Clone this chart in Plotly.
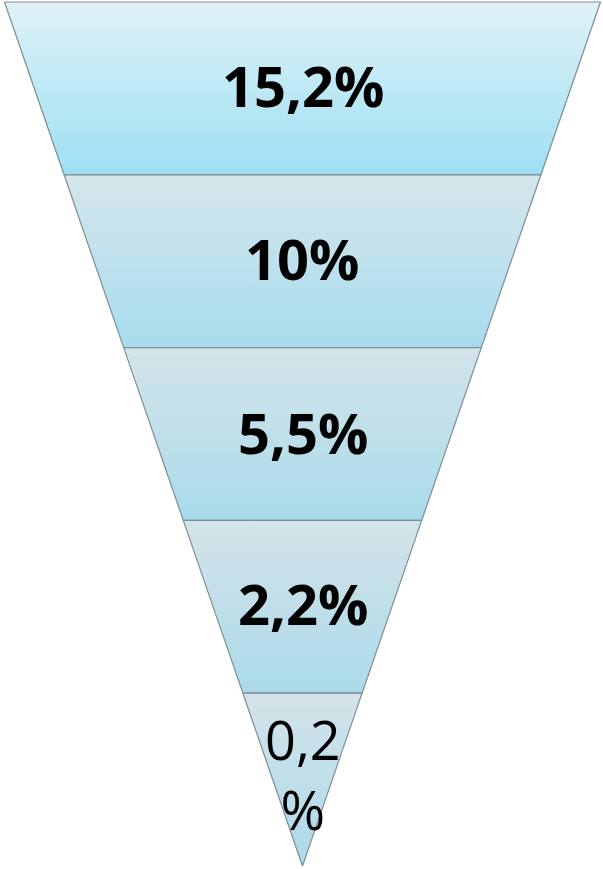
import plotly.graph_objects as go

# ---- data ----
stages = ["Stage 1", "Stage 2", "Stage 3", "Stage 4", "Stage 5"]
values = [15.2, 10, 5.5, 2.2, 0.2]
labels = ["15,2%", "10%", "5,5%", "2,2%", "0,2<br>%"]
label_bold = [True, True, True, True, False]
top_colors = ["#e0f1f7", "#d6e6ec", "#d4e4ea", "#d4e3e9", "#d4e3e9"]
bottom_colors = ["#9de0f3", "#a6dcee", "#a9dbeb", "#abdaea", "#abdaea"]

# ---- geometry (pixel-like axis units) ----
W, H = 603, 869
cx = 302.5
top_y = 2.0
apex_y = 866.0
half_top = 298.0
n = len(values)
band_h = (apex_y - top_y) / n


def half_width(y):
    return half_top * (apex_y - y) / (apex_y - top_y)


fig = go.Figure()
for i in range(n):
    y0 = top_y + i * band_h
    y1 = top_y + (i + 1) * band_h
    w0, w1 = half_width(y0), half_width(y1)
    xs = [cx - w0, cx + w0, cx + w1, cx - w1, cx - w0]
    ys = [y0, y0, y1, y1, y0]
    fig.add_trace(go.Scatter(
        x=xs, y=ys, mode="lines", fill="toself",
        line=dict(color="#7d8e95", width=1.2),
        fillgradient=dict(type="vertical",
                          colorscale=[[0, top_colors[i]], [1, bottom_colors[i]]],
                          start=y0, stop=y1),
        hoverinfo="skip", showlegend=False, name=stages[i],
    ))

label_y = [85, 258, 432, 603, 774]
for i in range(n):
    bold = label_bold[i]
    fig.add_annotation(
        x=cx, y=label_y[i], text=labels[i], showarrow=False,
        font=dict(family="Open Sans", size=56 if bold else 54,
                  color="#000000", weight="bold" if bold else "normal"),
        xanchor="center", yanchor="middle",
    )

fig.update_layout(
    width=W, height=H,
    margin=dict(l=0, r=0, t=0, b=0),
    paper_bgcolor="white", plot_bgcolor="white",
    xaxis=dict(range=[0, W], visible=False, fixedrange=True),
    yaxis=dict(range=[H, 0], visible=False, fixedrange=True),
)
fig.write_html("out.html", config={"displayModeBar": False},
               post_script="document.body.style.margin='0';document.body.style.overflow='hidden';")
